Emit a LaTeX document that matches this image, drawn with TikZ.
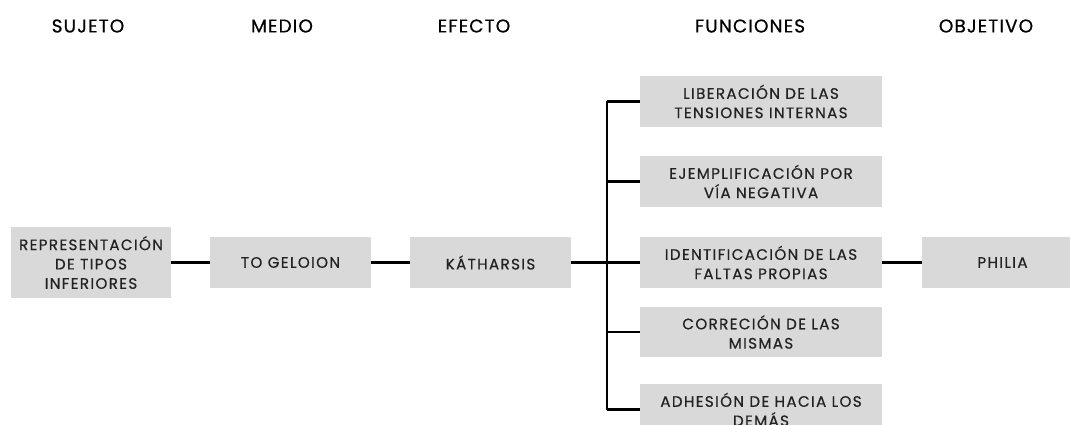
\documentclass[tikz,border=0pt]{standalone}
\usepackage{fontspec}
\usepackage{xcolor}
\setmainfont{Poppins}
\newfontfamily\capsfont[LetterSpace=6, FakeBold=0.6]{Poppins}
\newfontfamily\boxfont[LetterSpace=9, FakeBold=0.6]{Poppins}
\usetikzlibrary{positioning}
\definecolor{Box_Gray}{HTML}{D9D9D9}
\definecolor{Ink_Dark}{HTML}{222222}

\begin{document}
\begin{tikzpicture}[x=0.02cm, y=-0.02cm,
  box/.style={fill=Box_Gray, text=Ink_Dark, align=center, inner sep=0pt,
    font=\boxfont\fontsize{8.6}{11}\selectfont, minimum height=1.02cm},
  head/.style={text=black, font=\capsfont\fontsize{10.5}{12}\selectfont},
  link/.style={line width=1.5pt}]
\useasboundingbox (0,0) rectangle (1070,425);
% --- Column headers ---
\node[head] (hsuj) at (88,26) {SUJETO};
\node[head] (hmed) at (282,26) {MEDIO};
\node[head] (hefe) at (474,26) {EFECTO};
\node[head] (hfun) at (750,26) {FUNCIONES};
\node[head] (hobj) at (986,26) {OBJETIVO};
% --- Main chain ---
\node[box, minimum width=3.2cm, minimum height=1.42cm] (repr) at (91,262.5)
  {REPRESENTACIÓN\\DE TIPOS\\INFERIORES};
\node[box, minimum width=3.22cm] (gel) at (290.5,262.5) {TO GELOION};
\node[box, minimum width=3.22cm] (kath) at (490.5,262.5) {KÁTHARSIS};
% --- Functions ---
\node[box, minimum width=4.84cm] (f1) at (761,101.5) {LIBERACIÓN DE LAS\\TENSIONES INTERNAS};
\node[box, minimum width=4.84cm] (f2) at (761,181.5) {EJEMPLIFICACIÓN POR\\VÍA NEGATIVA};
\node[box, minimum width=4.84cm] (f3) at (761,262.5) {IDENTIFICACIÓN DE LAS\\FALTAS PROPIAS};
\node[box, minimum width=4.84cm] (f4) at (761,332) {CORRECIÓN DE LAS\\MISMAS};
\node[box, minimum width=4.84cm] (f5) at (761,409.5) {ADHESIÓN DE HACIA LOS\\DEMÁS};
% --- Objective ---
\node[box, minimum width=3.22cm] (phil) at (1002.5,262.5) {PHILIA};
% Connectors
\coordinate (jn) at (607,262.5);
\draw[link] (repr) -- (gel);
\draw[link] (gel) -- (kath);
\draw[link] (kath) -- (jn);
\draw[link] (jn |- f1) -- (jn |- f5);
\draw[link] (jn |- f1) -- (f1);
\draw[link] (jn |- f2) -- (f2);
\draw[link] (jn |- f3) -- (f3);
\draw[link] (jn |- f4) -- (f4);
\draw[link] (jn |- f5) -- (f5);
\draw[link] (f3) -- (phil);
\end{tikzpicture}
\end{document}
